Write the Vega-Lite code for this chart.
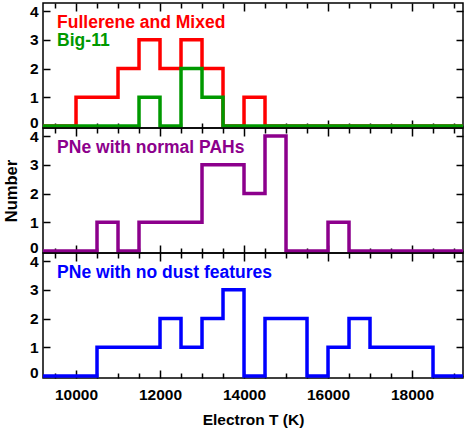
{
  "$schema": "https://vega.github.io/schema/vega-lite/v6.json",
  "background": "white",
  "padding": {"left": 2, "top": 1, "right": 6, "bottom": 2},
  "spacing": 0,
  "bounds": "flush",
  "config": {
    "view": {"stroke": "black", "strokeWidth": 1.5},
    "font": "Liberation Sans",
    "axis": {
      "grid": false,
      "domain": false,
      "labelFont": "Liberation Sans",
      "labelFontWeight": "bold",
      "labelFontSize": 15.5,
      "labelColor": "black",
      "titleFont": "Liberation Sans",
      "titleFontWeight": "bold",
      "titleFontSize": 15.5,
      "titleColor": "black",
      "tickColor": "black",
      "tickWidth": 1.5
    }
  },
  "datasets": {
    "fullerene": [
      {"T": 9000, "n": 0}, {"T": 10000, "n": 1}, {"T": 11000, "n": 2}, {"T": 11500, "n": 3},
      {"T": 12000, "n": 2}, {"T": 12500, "n": 3}, {"T": 13000, "n": 2}, {"T": 13500, "n": 0},
      {"T": 14000, "n": 1}, {"T": 14500, "n": 0}, {"T": 19500, "n": 0}
    ],
    "big11": [
      {"T": 9000, "n": 0}, {"T": 11500, "n": 1}, {"T": 12000, "n": 0}, {"T": 12500, "n": 2},
      {"T": 13000, "n": 1}, {"T": 13500, "n": 0}, {"T": 19500, "n": 0}
    ],
    "pahs": [
      {"T": 9000, "n": 0}, {"T": 10500, "n": 1}, {"T": 11000, "n": 0}, {"T": 11500, "n": 1},
      {"T": 13000, "n": 3}, {"T": 14000, "n": 2}, {"T": 14500, "n": 4}, {"T": 15000, "n": 0},
      {"T": 16000, "n": 1}, {"T": 16500, "n": 0}, {"T": 19500, "n": 0}
    ],
    "nodust": [
      {"T": 9000, "n": 0}, {"T": 10500, "n": 1}, {"T": 12000, "n": 2}, {"T": 12500, "n": 1},
      {"T": 13000, "n": 2}, {"T": 13500, "n": 3}, {"T": 14000, "n": 0}, {"T": 14500, "n": 2},
      {"T": 15500, "n": 0}, {"T": 16000, "n": 1}, {"T": 16500, "n": 2}, {"T": 17000, "n": 1},
      {"T": 18500, "n": 0}, {"T": 19500, "n": 0}
    ]
  },
  "vconcat": [
    {
      "width": 420,
      "height": 125,
      "resolve": {"axis": {"x": "independent", "y": "independent"}},
      "layer": [
        {
          "data": {"name": "fullerene"},
          "mark": {"type": "line", "interpolate": "step-after", "clip": true, "strokeWidth": 3.5, "color": "#ff0000"},
          "encoding": {
            "x": {"field": "T", "type": "quantitative", "scale": {"domain": [9214, 19214], "nice": false, "zero": false},
              "axis": {"orient": "bottom", "title": null, "labels": false, "values": [9500, 10000, 10500, 11000, 11500, 12000, 12500, 13000, 13500, 14000, 14500, 15000, 15500, 16000, 16500, 17000, 17500, 18000, 18500, 19000],
                "tickSize": {"condition": {"test": "datum.value % 2000 === 0", "value": -8}, "value": -5}}},
            "y": {"field": "n", "type": "quantitative", "scale": {"domain": [-0.07, 4.28], "nice": false, "zero": false},
              "axis": {"orient": "left", "title": null, "values": [0, 1, 2, 3, 4], "tickSize": -7, "labelPadding": 12,
                "labelOffset": {"condition": {"test": "datum.value === 0", "value": -3}, "value": 0}}}
          }
        },
        {
          "data": {"name": "big11"},
          "mark": {"type": "line", "interpolate": "step-after", "clip": true, "strokeWidth": 3.5, "color": "#009900"},
          "encoding": {
            "x": {"field": "T", "type": "quantitative", "axis": null},
            "y": {"field": "n", "type": "quantitative", "axis": null}
          }
        },
        {
          "data": {"values": [{"label": "Fullerene and Mixed"}]},
          "mark": {"type": "text", "align": "left", "baseline": "alphabetic", "fontSize": 17.5, "fontWeight": "bold", "font": "Liberation Sans", "color": "#ff0000"},
          "encoding": {
            "x": {"datum": 9550, "type": "quantitative", "axis": null},
            "y": {"datum": 3.41, "type": "quantitative", "axis": null},
            "text": {"field": "label"}
          }
        },
        {
          "data": {"values": [{"label": "Big-11"}]},
          "mark": {"type": "text", "align": "left", "baseline": "alphabetic", "fontSize": 17.5, "fontWeight": "bold", "font": "Liberation Sans", "color": "#009900"},
          "encoding": {
            "x": {"datum": 9550, "type": "quantitative", "axis": null},
            "y": {"datum": 2.78, "type": "quantitative", "axis": null},
            "text": {"field": "label"}
          }
        },
        {
          "data": {"name": "fullerene"},
          "mark": {"type": "line", "opacity": 0, "clip": true},
          "encoding": {
            "x": {"field": "T", "type": "quantitative",
              "axis": {"orient": "top", "title": null, "labels": false, "values": [9500, 10000, 10500, 11000, 11500, 12000, 12500, 13000, 13500, 14000, 14500, 15000, 15500, 16000, 16500, 17000, 17500, 18000, 18500, 19000],
                "tickSize": {"condition": {"test": "datum.value % 2000 === 0", "value": -8}, "value": -5}}},
            "y": {"field": "n", "type": "quantitative",
              "axis": {"orient": "right", "title": null, "labels": false, "values": [0, 1, 2, 3, 4], "tickSize": -7}}
          }
        }
      ]
    },
    {
      "width": 420,
      "height": 125,
      "resolve": {"axis": {"x": "independent", "y": "independent"}},
      "layer": [
        {
          "data": {"name": "pahs"},
          "mark": {"type": "line", "interpolate": "step-after", "clip": true, "strokeWidth": 3.5, "color": "#8c008c"},
          "encoding": {
            "x": {"field": "T", "type": "quantitative", "scale": {"domain": [9214, 19214], "nice": false, "zero": false},
              "axis": {"orient": "bottom", "title": null, "labels": false, "values": [9500, 10000, 10500, 11000, 11500, 12000, 12500, 13000, 13500, 14000, 14500, 15000, 15500, 16000, 16500, 17000, 17500, 18000, 18500, 19000],
                "tickSize": {"condition": {"test": "datum.value % 2000 === 0", "value": -8}, "value": -5}}},
            "y": {"field": "n", "type": "quantitative", "scale": {"domain": [-0.07, 4.28], "nice": false, "zero": false},
              "axis": {"orient": "left", "title": "Number", "titleFontSize": 16.5, "titlePadding": 10, "values": [0, 1, 2, 3, 4], "tickSize": -7, "labelPadding": 12,
                "labelOffset": {"condition": {"test": "datum.value === 0", "value": -3}, "value": 0}}}
          }
        },
        {
          "data": {"values": [{"label": "PNe with normal PAHs"}]},
          "mark": {"type": "text", "align": "left", "baseline": "alphabetic", "fontSize": 17.5, "fontWeight": "bold", "font": "Liberation Sans", "color": "#8c008c"},
          "encoding": {
            "x": {"datum": 9550, "type": "quantitative", "axis": null},
            "y": {"datum": 3.41, "type": "quantitative", "axis": null},
            "text": {"field": "label"}
          }
        },
        {
          "data": {"name": "pahs"},
          "mark": {"type": "line", "opacity": 0, "clip": true},
          "encoding": {
            "x": {"field": "T", "type": "quantitative",
              "axis": {"orient": "top", "title": null, "labels": false, "values": [9500, 10000, 10500, 11000, 11500, 12000, 12500, 13000, 13500, 14000, 14500, 15000, 15500, 16000, 16500, 17000, 17500, 18000, 18500, 19000],
                "tickSize": {"condition": {"test": "datum.value % 2000 === 0", "value": -8}, "value": -5}}},
            "y": {"field": "n", "type": "quantitative",
              "axis": {"orient": "right", "title": null, "labels": false, "values": [0, 1, 2, 3, 4], "tickSize": -7}}
          }
        }
      ]
    },
    {
      "width": 420,
      "height": 125,
      "resolve": {"axis": {"x": "independent", "y": "independent"}},
      "layer": [
        {
          "data": {"name": "nodust"},
          "mark": {"type": "line", "interpolate": "step-after", "clip": true, "strokeWidth": 3.5, "color": "#0000ff"},
          "encoding": {
            "x": {"field": "T", "type": "quantitative", "scale": {"domain": [9214, 19214], "nice": false, "zero": false},
              "axis": {"orient": "bottom", "title": "Electron T (K)", "titlePadding": 10, "format": "d", "labelPadding": 17,
                "labelExpr": "datum.value % 2000 === 0 ? datum.label : ''",
                "values": [9500, 10000, 10500, 11000, 11500, 12000, 12500, 13000, 13500, 14000, 14500, 15000, 15500, 16000, 16500, 17000, 17500, 18000, 18500, 19000],
                "tickSize": {"condition": {"test": "datum.value % 2000 === 0", "value": -8}, "value": -5}}},
            "y": {"field": "n", "type": "quantitative", "scale": {"domain": [-0.07, 4.28], "nice": false, "zero": false},
              "axis": {"orient": "left", "title": null, "values": [0, 1, 2, 3, 4], "tickSize": -7, "labelPadding": 12,
                "labelOffset": {"condition": {"test": "datum.value === 0", "value": -3}, "value": 0}}}
          }
        },
        {
          "data": {"values": [{"label": "PNe with no dust features"}]},
          "mark": {"type": "text", "align": "left", "baseline": "alphabetic", "fontSize": 17.5, "fontWeight": "bold", "font": "Liberation Sans", "color": "#0000ff"},
          "encoding": {
            "x": {"datum": 9550, "type": "quantitative", "axis": null},
            "y": {"datum": 3.42, "type": "quantitative", "axis": null},
            "text": {"field": "label"}
          }
        },
        {
          "data": {"name": "nodust"},
          "mark": {"type": "line", "opacity": 0, "clip": true},
          "encoding": {
            "x": {"field": "T", "type": "quantitative",
              "axis": {"orient": "top", "title": null, "labels": false, "values": [9500, 10000, 10500, 11000, 11500, 12000, 12500, 13000, 13500, 14000, 14500, 15000, 15500, 16000, 16500, 17000, 17500, 18000, 18500, 19000],
                "tickSize": {"condition": {"test": "datum.value % 2000 === 0", "value": -8}, "value": -5}}},
            "y": {"field": "n", "type": "quantitative",
              "axis": {"orient": "right", "title": null, "labels": false, "values": [0, 1, 2, 3, 4], "tickSize": -7}}
          }
        }
      ]
    }
  ]
}
